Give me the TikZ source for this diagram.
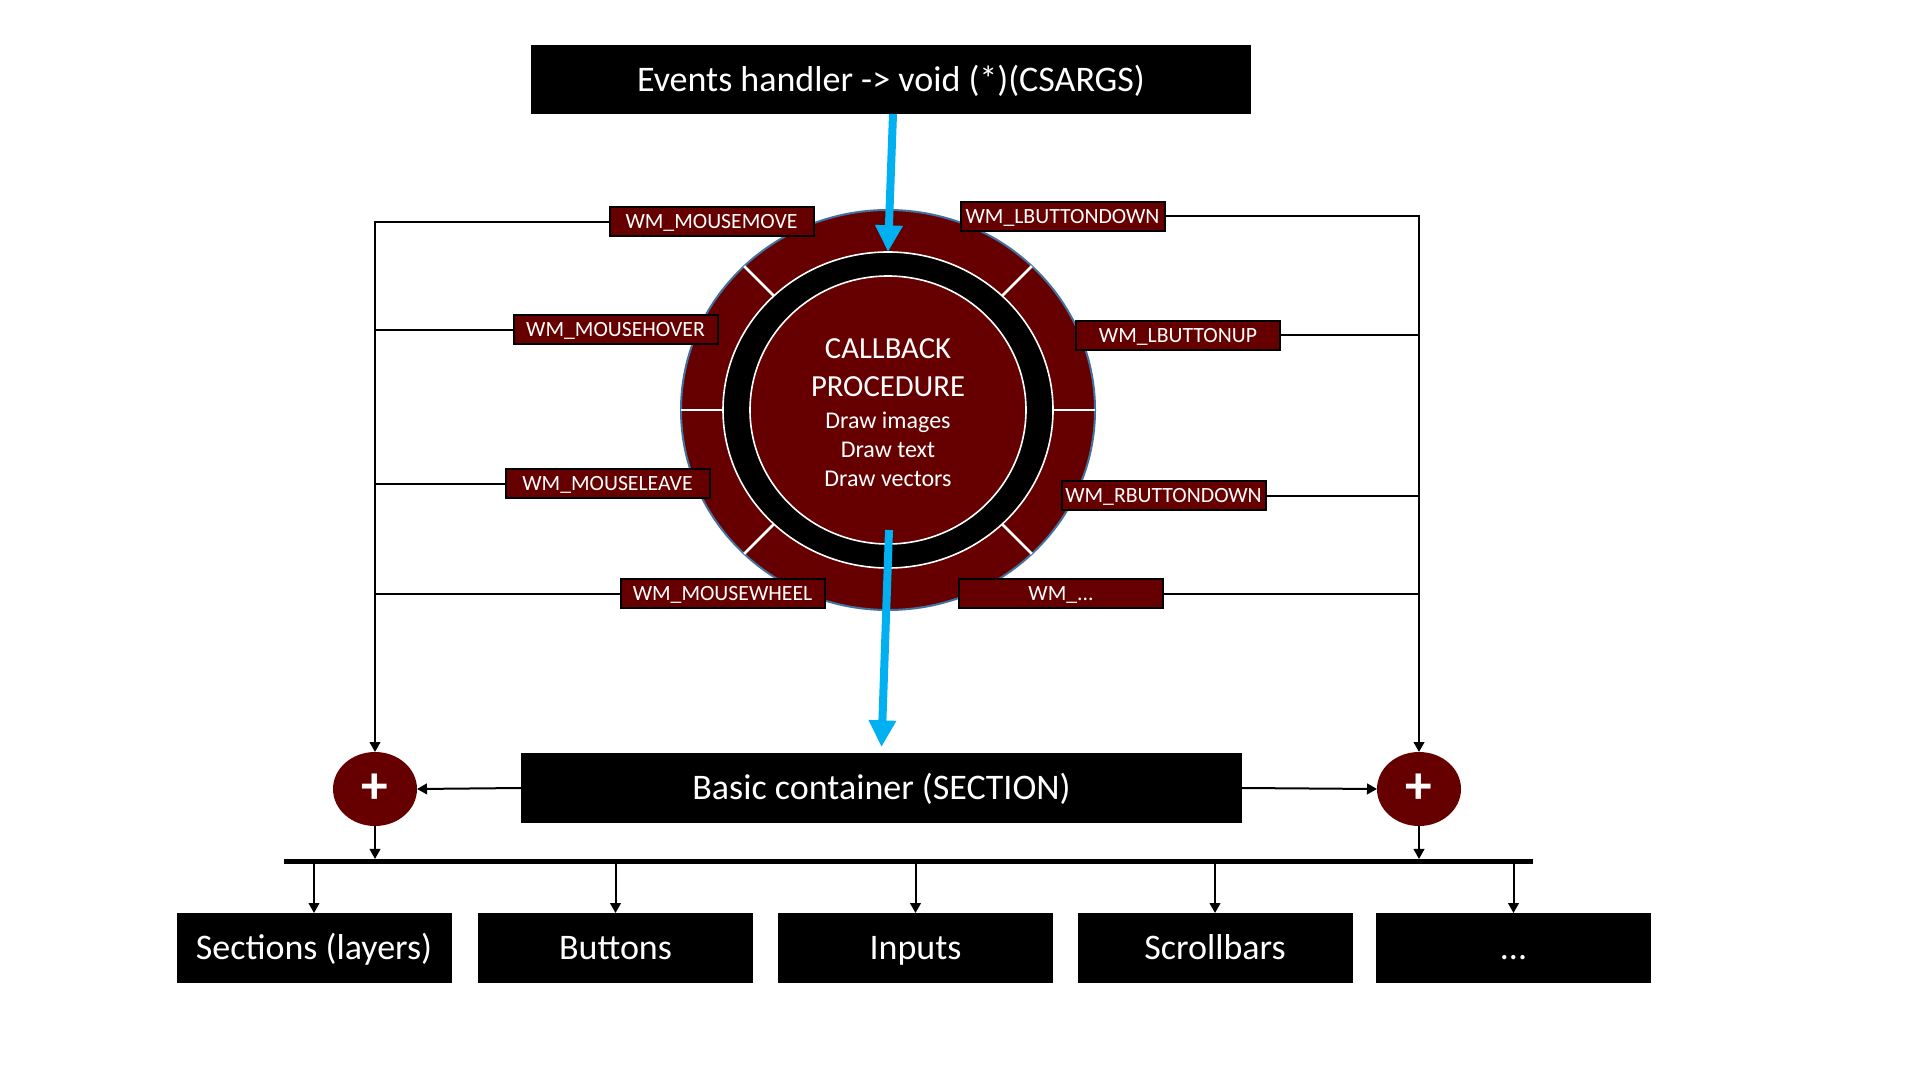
\documentclass[tikz,border=0pt]{standalone}
\usepackage{fontspec}
\setmainfont{Carlito}
\usetikzlibrary{arrows.meta,shapes.geometric,calc}
\definecolor{dred}{HTML}{660000}
\definecolor{cyanb}{HTML}{00B0F0}
\definecolor{rimblue}{HTML}{41719C}
\begin{document}
\begin{tikzpicture}[x=0.75pt,y=-0.75pt,
  blackbox/.style={fill=black,text=white,inner sep=0pt,outer sep=0pt,
    font=\fontsize{27}{30}\selectfont,minimum height=52.5pt,
    text height=17.4pt,text depth=0pt},
  lbl/.style={fill=dred,draw=black,line width=1.5pt,text=white,inner sep=0pt,
    outer sep=0pt,minimum width=153pt,minimum height=21.75pt,
    font=\fontsize{16.3}{19}\selectfont,text height=10.5pt,text depth=0pt},
  conn/.style={line width=1.5pt,-{Triangle[length=7.5pt,width=8pt]}},
  plainline/.style={line width=1.5pt},
  bluearrow/.style={draw=cyanb,line width=6pt,-{Triangle[length=20pt,width=19.5pt]}},
  plusnode/.style={ellipse,fill=dred,minimum width=63pt,minimum height=55.5pt,
    inner sep=0pt,outer sep=0pt,text=white,font=\fontsize{40}{40}\selectfont\bfseries},
  cbtext/.style={text=white,anchor=base,inner sep=0pt},
]
\useasboundingbox (0,0) rectangle (1920,1080);
\fill[white] (0,0) rectangle (1920,1080);

% top box
\node[blackbox,minimum width=540pt,minimum height=51.75pt] (top) at (891,79.5)
  {Events handler -> void (*)(CSARGS)};

% callback circle
\node[ellipse,fill=dred,draw=rimblue,line width=1.5pt,minimum width=310.5pt,
  minimum height=300pt,inner sep=0pt,outer sep=0pt] (outer) at (888,410) {};
\node[ellipse,fill=black,draw=white,line width=1.2pt,minimum width=247.5pt,
  minimum height=237pt,inner sep=0pt,outer sep=0pt] (ring) at (888,410) {};
\node[ellipse,fill=dred,draw=white,line width=1.2pt,minimum width=207pt,
  minimum height=201pt,inner sep=0pt,outer sep=0pt] (inner) at (888,410) {};
\foreach \a in {0,45,135,180,225,315}
  \draw[white,line width=2pt] (ring.\a) -- (outer.\a);

\node[cbtext,font=\fontsize{23}{26}\selectfont] (t1) at (888,359) {CALLBACK};
\node[cbtext,font=\fontsize{23}{26}\selectfont] (t2) at (888,397) {PROCEDURE};
\node[cbtext,font=\fontsize{18}{21}\selectfont] (t3) at (888,428) {Draw images};
\node[cbtext,font=\fontsize{18}{21}\selectfont] (t4) at (888,457) {Draw text};
\node[cbtext,font=\fontsize{18}{21}\selectfont] (t5) at (888,486) {Draw vectors};

% blue arrows
\draw[bluearrow] ([xshift=1.5pt]top.south) -- (ring.north);
\coordinate (bstart) at (889,530);

% labels
\node[lbl] (mm) at (711.5,222) {WM\_MOUSEMOVE};
\node[lbl] (lbd) at (1062.5,216.5) {WM\_LBUTTONDOWN};
\node[lbl] (mh) at (615.5,330) {WM\_MOUSEHOVER};
\node[lbl] (lbu) at (1178,335.5) {WM\_LBUTTONUP};
\node[lbl] (ml) at (607.5,483.5) {WM\_MOUSELEAVE};
\node[lbl] (rbd) at (1163.5,495.5) {WM\_RBUTTONDOWN};
\node[lbl] (mw) at (722.5,593.5) {WM\_MOUSEWHEEL};
\node[lbl] (wmx) at (1061,593.5) {WM\_...};

% basic container and plus nodes
\node[blackbox,minimum width=540.75pt] (basic) at (881.5,788) {Basic container (SECTION)};
\node[plusnode] (plusL) at (375,789) {+};
\node[plusnode] (plusR) at (1419,789) {+};

\draw[bluearrow] (bstart) -- ([yshift=4.5pt]basic.north);

% left connectors
\draw[conn] (mm.west) -| (plusL.north);
\draw[plainline] (mh.west) -- (mh.west -| plusL.north);
\draw[plainline] (ml.west) -- (ml.west -| plusL.north);
\draw[plainline] (mw.west) -- (mw.west -| plusL.north);
% right connectors
\draw[conn] (lbd.east) -| (plusR.north);
\draw[plainline] (lbu.east) -- (lbu.east -| plusR.north);
\draw[plainline] (rbd.east) -- (rbd.east -| plusR.north);
\draw[plainline] (wmx.east) -- (wmx.east -| plusR.north);

\draw[conn] (basic.west) -- (plusL.east);
\draw[conn] (basic.east) -- (plusR.west);

% bus
\coordinate (busL) at (284,861.5);
\coordinate (busR) at (1533,861.5);
\draw[line width=3.75pt] (busL) -- (busR);
\draw[conn] (plusL.south) -- ([yshift=1.9pt]plusL.south |- busL);
\draw[conn] (plusR.south) -- ([yshift=1.9pt]plusR.south |- busL);

% bottom boxes
\node[blackbox,minimum width=206.25pt] (b1) at (314,948) {Sections (layers)};
\node[blackbox,minimum width=206.25pt] (b2) at (615.5,948) {Buttons};
\node[blackbox,minimum width=206.25pt] (b3) at (915.5,948) {Inputs};
\node[blackbox,minimum width=206.25pt] (b4) at (1215,948) {Scrollbars};
\node[blackbox,minimum width=206.25pt] (b5) at (1513.5,948) {...};
\foreach \b in {b1,b2,b3,b4,b5}
  \draw[conn] (\b.north |- busL) -- (\b.north);
\end{tikzpicture}
\end{document}
